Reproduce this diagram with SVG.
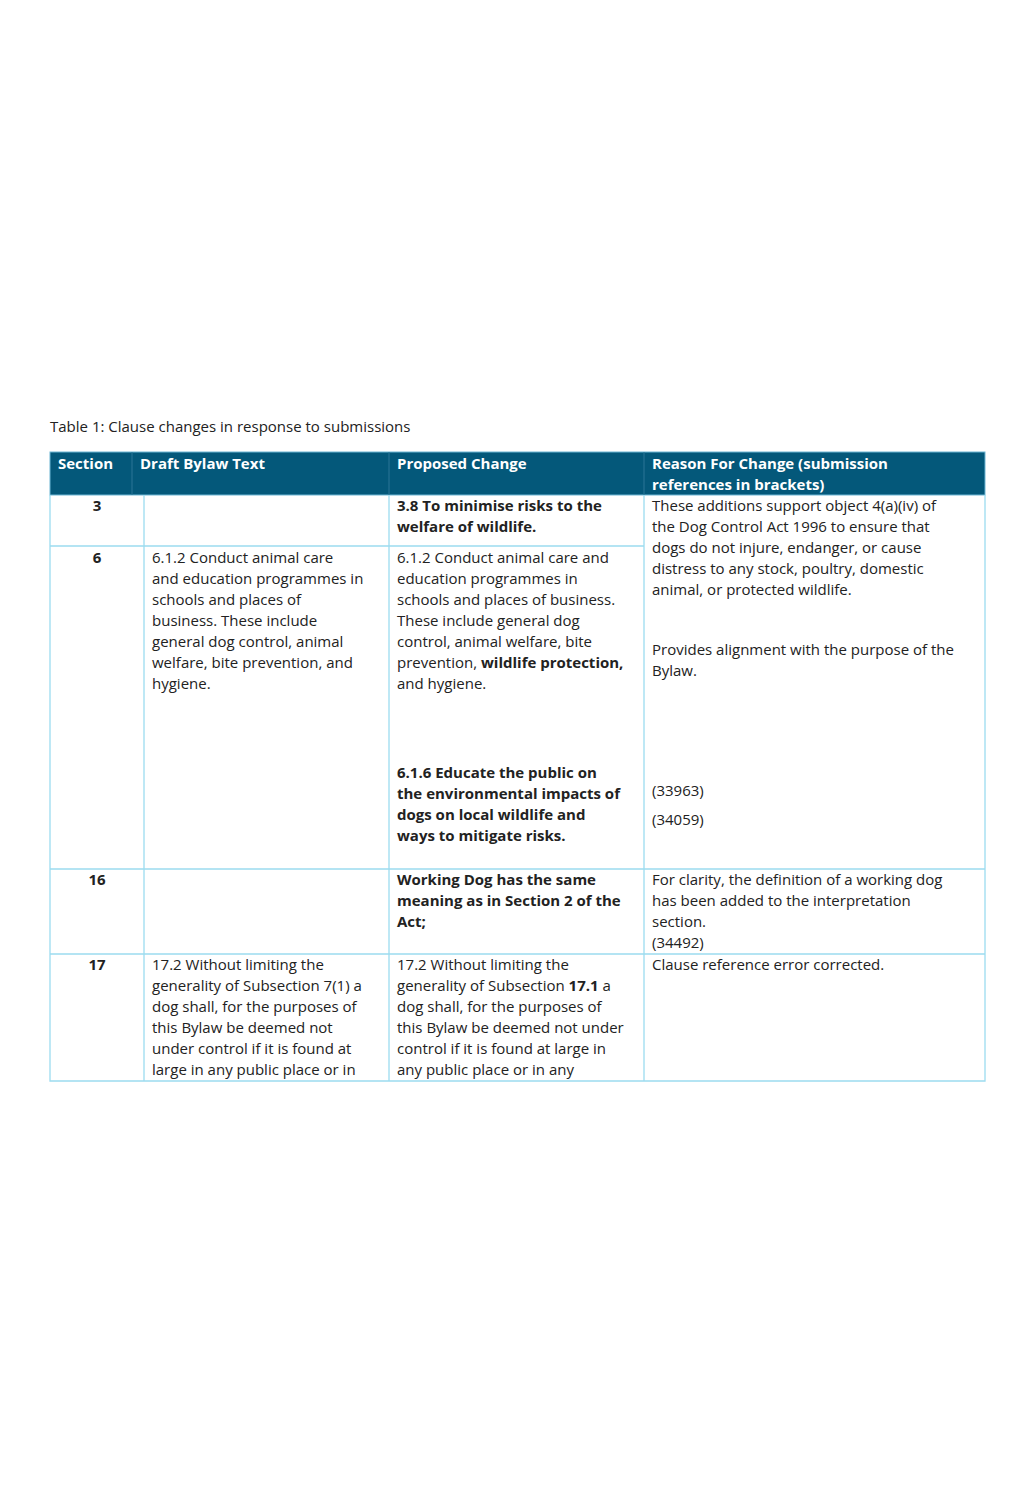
<svg xmlns="http://www.w3.org/2000/svg" width="1033" height="1505" viewBox="0 0 1033 1505">
<style>
text{font-family:"Open Sans","Liberation Sans",sans-serif;font-size:15px;fill:#222}
.h{fill:#fff;font-weight:bold}
.b{font-weight:bold}
.c{text-anchor:middle;font-weight:bold}
.g{stroke:#9cdcf0;stroke-width:1.3;fill:none}
</style>
<rect width="1033" height="1505" fill="#fff"/>
<text x="50" y="432">Table 1: Clause changes in response to submissions</text>
<g id="header">
<rect x="50" y="452" width="935" height="43" fill="#04587a" stroke="#6cb6d4" stroke-width="1"/>
<line x1="132" y1="452" x2="132" y2="495" stroke="#2b7596"/>
<line x1="389" y1="452" x2="389" y2="495" stroke="#2b7596"/>
<line x1="644" y1="452" x2="644" y2="495" stroke="#2b7596"/>
<text class="h" x="58" y="469">Section</text>
<text class="h" x="140" y="469">Draft Bylaw Text</text>
<text class="h" x="397" y="469">Proposed Change</text>
<text class="h" x="652" y="469">Reason For Change (submission</text>
<text class="h" x="652" y="490">references in brackets)</text>
</g>
<g id="grid">
<path class="g" d="M50 495V1081H985V495M144 495V1081M389 495V1081M644 495V1081M50 546H644M50 869H985M50 954H985"/>
</g>
<g id="row3">
<text class="c" x="97" y="511">3</text>
<text class="b" x="397" y="511">3.8 To minimise risks to the</text>
<text class="b" x="397" y="532">welfare of wildlife.</text>
<text x="652" y="511">These additions support object 4(a)(iv) of</text>
<text x="652" y="532">the Dog Control Act 1996 to ensure that</text>
<text x="652" y="553">dogs do not injure, endanger, or cause</text>
<text x="652" y="574">distress to any stock, poultry, domestic</text>
<text x="652" y="595">animal, or protected wildlife.</text>
</g>
<g id="row6">
<text class="c" x="97" y="563">6</text>
<text x="152" y="563">6.1.2 Conduct animal care</text>
<text x="152" y="584">and education programmes in</text>
<text x="152" y="605">schools and places of</text>
<text x="152" y="626">business. These include</text>
<text x="152" y="647">general dog control, animal</text>
<text x="152" y="668">welfare, bite prevention, and</text>
<text x="152" y="689">hygiene.</text>
<text x="397" y="563">6.1.2 Conduct animal care and</text>
<text x="397" y="584">education programmes in</text>
<text x="397" y="605">schools and places of business.</text>
<text x="397" y="626">These include general dog</text>
<text x="397" y="647">control, animal welfare, bite</text>
<text x="397" y="668">prevention, <tspan class="b">wildlife protection,</tspan></text>
<text x="397" y="689">and hygiene.</text>
<text class="b" x="397" y="778">6.1.6 Educate the public on</text>
<text class="b" x="397" y="799">the environmental impacts of</text>
<text class="b" x="397" y="820">dogs on local wildlife and</text>
<text class="b" x="397" y="841">ways to mitigate risks.</text>
<text x="652" y="655">Provides alignment with the purpose of the</text>
<text x="652" y="676">Bylaw.</text>
<text x="652" y="796">(33963)</text>
<text x="652" y="825">(34059)</text>
</g>
<g id="row16">
<text class="c" x="97" y="885">16</text>
<text class="b" x="397" y="885">Working Dog has the same</text>
<text class="b" x="397" y="906">meaning as in Section 2 of the</text>
<text class="b" x="397" y="927">Act;</text>
<text x="652" y="885">For clarity, the definition of a working dog</text>
<text x="652" y="906">has been added to the interpretation</text>
<text x="652" y="927">section.</text>
<text x="652" y="948">(34492)</text>
</g>
<g id="row17">
<text class="c" x="97" y="970">17</text>
<text x="152" y="970">17.2 Without limiting the</text>
<text x="152" y="991">generality of Subsection 7(1) a</text>
<text x="152" y="1012">dog shall, for the purposes of</text>
<text x="152" y="1033">this Bylaw be deemed not</text>
<text x="152" y="1054">under control if it is found at</text>
<text x="152" y="1075">large in any public place or in</text>
<text x="397" y="970">17.2 Without limiting the</text>
<text x="397" y="991">generality of Subsection <tspan class="b">17.1</tspan> a</text>
<text x="397" y="1012">dog shall, for the purposes of</text>
<text x="397" y="1033">this Bylaw be deemed not under</text>
<text x="397" y="1054">control if it is found at large in</text>
<text x="397" y="1075">any public place or in any</text>
<text x="652" y="970">Clause reference error corrected.</text>
</g>
</svg>
